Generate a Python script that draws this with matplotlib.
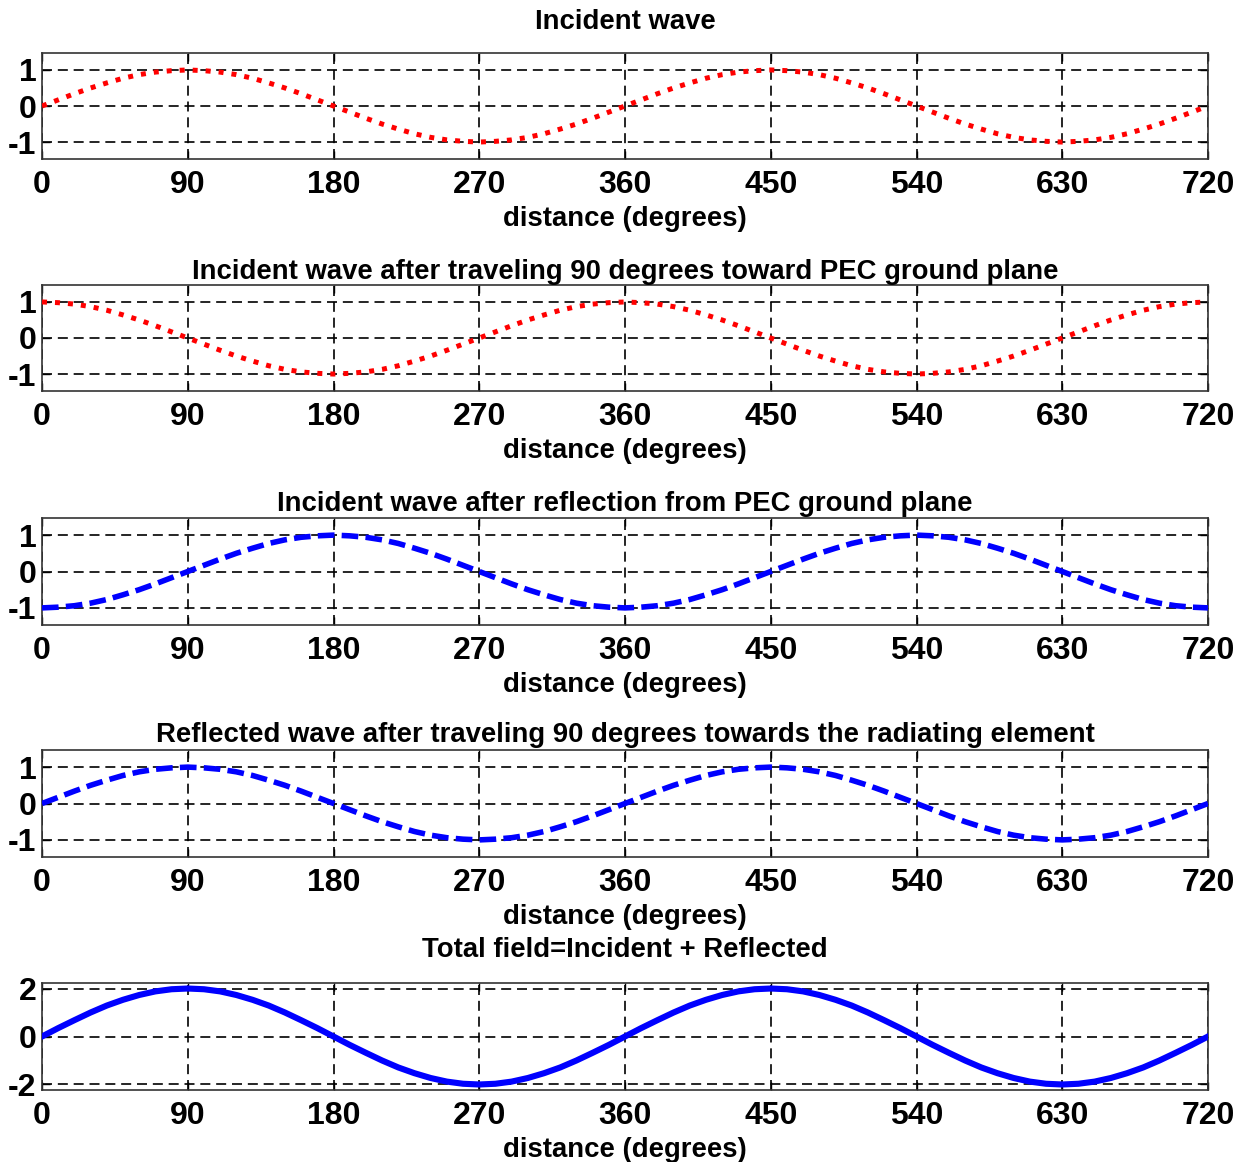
import matplotlib
matplotlib.use("Agg")
import matplotlib.pyplot as plt

plt.rcParams['font.family'] = ['Liberation Sans', 'DejaVu Sans']
plt.rcParams['font.weight'] = 'bold'
plt.rcParams['axes.unicode_minus'] = False

# distance in degrees, every 10 degrees
distance = [0, 10, 20, 30, 40, 50, 60, 70, 80, 90, 100, 110, 120, 130, 140, 150, 160, 170,
            180, 190, 200, 210, 220, 230, 240, 250, 260, 270, 280, 290, 300, 310, 320, 330, 340, 350,
            360, 370, 380, 390, 400, 410, 420, 430, 440, 450, 460, 470, 480, 490, 500, 510, 520, 530,
            540, 550, 560, 570, 580, 590, 600, 610, 620, 630, 640, 650, 660, 670, 680, 690, 700, 710,
            720]

incident = [0, 0.17, 0.34, 0.5, 0.64, 0.77, 0.87, 0.94, 0.98, 1, 0.98, 0.94, 0.87, 0.77, 0.64, 0.5, 0.34, 0.17,
            0, -0.17, -0.34, -0.5, -0.64, -0.77, -0.87, -0.94, -0.98, -1, -0.98, -0.94, -0.87, -0.77, -0.64, -0.5, -0.34, -0.17,
            0, 0.17, 0.34, 0.5, 0.64, 0.77, 0.87, 0.94, 0.98, 1, 0.98, 0.94, 0.87, 0.77, 0.64, 0.5, 0.34, 0.17,
            0, -0.17, -0.34, -0.5, -0.64, -0.77, -0.87, -0.94, -0.98, -1, -0.98, -0.94, -0.87, -0.77, -0.64, -0.5, -0.34, -0.17,
            0]

incident_90 = [1, 0.98, 0.94, 0.87, 0.77, 0.64, 0.5, 0.34, 0.17, 0, -0.17, -0.34, -0.5, -0.64, -0.77, -0.87, -0.94, -0.98,
               -1, -0.98, -0.94, -0.87, -0.77, -0.64, -0.5, -0.34, -0.17, 0, 0.17, 0.34, 0.5, 0.64, 0.77, 0.87, 0.94, 0.98,
               1, 0.98, 0.94, 0.87, 0.77, 0.64, 0.5, 0.34, 0.17, 0, -0.17, -0.34, -0.5, -0.64, -0.77, -0.87, -0.94, -0.98,
               -1, -0.98, -0.94, -0.87, -0.77, -0.64, -0.5, -0.34, -0.17, 0, 0.17, 0.34, 0.5, 0.64, 0.77, 0.87, 0.94, 0.98,
               1]

reflected_0 = [-1, -0.98, -0.94, -0.87, -0.77, -0.64, -0.5, -0.34, -0.17, 0, 0.17, 0.34, 0.5, 0.64, 0.77, 0.87, 0.94, 0.98,
               1, 0.98, 0.94, 0.87, 0.77, 0.64, 0.5, 0.34, 0.17, 0, -0.17, -0.34, -0.5, -0.64, -0.77, -0.87, -0.94, -0.98,
               -1, -0.98, -0.94, -0.87, -0.77, -0.64, -0.5, -0.34, -0.17, 0, 0.17, 0.34, 0.5, 0.64, 0.77, 0.87, 0.94, 0.98,
               1, 0.98, 0.94, 0.87, 0.77, 0.64, 0.5, 0.34, 0.17, 0, -0.17, -0.34, -0.5, -0.64, -0.77, -0.87, -0.94, -0.98,
               -1]

reflected_90 = [0, 0.17, 0.34, 0.5, 0.64, 0.77, 0.87, 0.94, 0.98, 1, 0.98, 0.94, 0.87, 0.77, 0.64, 0.5, 0.34, 0.17,
                0, -0.17, -0.34, -0.5, -0.64, -0.77, -0.87, -0.94, -0.98, -1, -0.98, -0.94, -0.87, -0.77, -0.64, -0.5, -0.34, -0.17,
                0, 0.17, 0.34, 0.5, 0.64, 0.77, 0.87, 0.94, 0.98, 1, 0.98, 0.94, 0.87, 0.77, 0.64, 0.5, 0.34, 0.17,
                0, -0.17, -0.34, -0.5, -0.64, -0.77, -0.87, -0.94, -0.98, -1, -0.98, -0.94, -0.87, -0.77, -0.64, -0.5, -0.34, -0.17,
                0]

total = [0, 0.35, 0.68, 1, 1.29, 1.53, 1.73, 1.88, 1.97, 2, 1.97, 1.88, 1.73, 1.53, 1.29, 1, 0.68, 0.35,
         0, -0.35, -0.68, -1, -1.29, -1.53, -1.73, -1.88, -1.97, -2, -1.97, -1.88, -1.73, -1.53, -1.29, -1, -0.68, -0.35,
         0, 0.35, 0.68, 1, 1.29, 1.53, 1.73, 1.88, 1.97, 2, 1.97, 1.88, 1.73, 1.53, 1.29, 1, 0.68, 0.35,
         0, -0.35, -0.68, -1, -1.29, -1.53, -1.73, -1.88, -1.97, -2, -1.97, -1.88, -1.73, -1.53, -1.29, -1, -0.68, -0.35,
         0]

xticks = [0, 90, 180, 270, 360, 450, 540, 630, 720]

titles = ["Incident wave",
          "Incident wave after traveling 90 degrees toward PEC ground plane",
          "Incident wave after reflection from PEC ground plane",
          "Reflected wave after traveling 90 degrees towards the radiating element",
          "Total field=Incident + Reflected"]

fig = plt.figure(figsize=(12.5, 11.62), dpi=100)

left = 42 / 1250
width = (1208 - 42) / 1250
tops = [53, 285, 518, 750, 983]
bottoms = [159, 391, 625, 857, 1090]
title_pads = [17, 4.5, 5, 5.5, 19]

series = [
    (incident, 'red', (0, (1, 1.6)), 3.6, [-1, 0, 1], 1.47),
    (incident_90, 'red', (0, (1, 1.6)), 3.6, [-1, 0, 1], 1.47),
    (reflected_0, 'blue', (0, (3.0, 1.3)), 4.0, [-1, 0, 1], 1.47),
    (reflected_90, 'blue', (0, (3.0, 1.3)), 4.0, [-1, 0, 1], 1.47),
    (total, 'blue', '-', 4.4, [-2, 0, 2], 2.23),
]

for i, (y, col, ls, lw, yt, ylim) in enumerate(series):
    b = 1 - bottoms[i] / 1162
    h = (bottoms[i] - tops[i]) / 1162
    ax = fig.add_axes([left, b, width, h])
    ax.plot(distance, y, color=col, linestyle=ls, linewidth=lw, zorder=3)
    ax.set_xlim(0, 720)
    ax.set_ylim(-ylim, ylim)
    ax.set_xticks(xticks)
    ax.set_yticks(yt)
    ax.grid(True, color='black', linestyle=(0, (6, 3.5)), linewidth=1.2)
    ax.tick_params(direction='in', top=True, right=True, length=6, width=1, labelsize=23)
    ax.tick_params(axis='x', pad=8)
    ax.tick_params(axis='y', pad=4)
    for s in ax.spines.values():
        s.set_color('#333333')
        s.set_linewidth(1.2)
    ax.set_title(titles[i], fontsize=19.8, fontweight='bold', pad=title_pads[i])
    ax.set_xlabel("distance (degrees)", fontsize=19.8, fontweight='bold', labelpad=4)

fig.savefig("out.png", dpi=100)
